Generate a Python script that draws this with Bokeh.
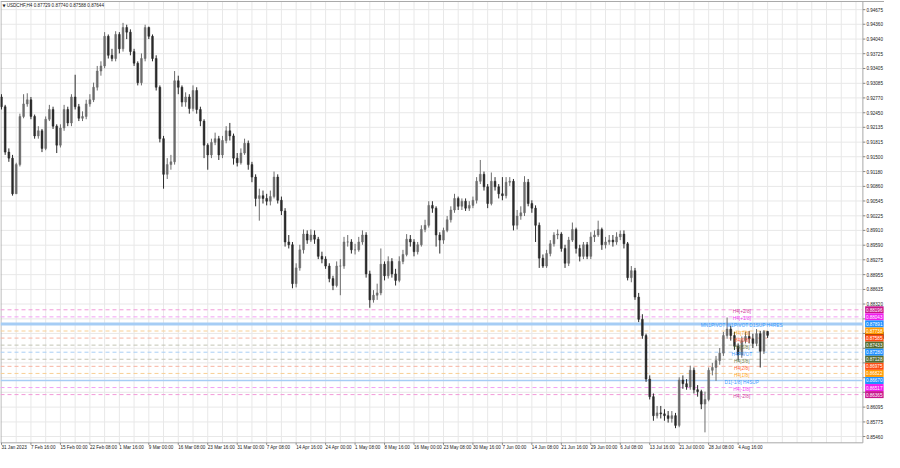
from bokeh.plotting import figure
from bokeh.models import Range1d
from bokeh.embed import file_html
from bokeh.resources import INLINE
from bokeh.core.properties import value

# ---------------- data ----------------
title_text = "USDCHF,H4  0.87729 0.87740 0.87588 0.87644"

time_labels = ["31 Jan 2023", "7 Feb 16:00", "15 Feb 00:00", "22 Feb 08:00", "1 Mar 16:00",
               "9 Mar 00:00", "16 Mar 08:00", "23 Mar 16:00", "31 Mar 00:00", "7 Apr 08:00",
               "14 Apr 16:00", "24 Apr 00:00", "1 May 08:00", "8 May 16:00", "16 May 00:00",
               "23 May 08:00", "30 May 16:00", "7 Jun 00:00", "14 Jun 08:00", "21 Jun 16:00",
               "29 Jun 00:00", "6 Jul 08:00", "13 Jul 16:00", "21 Jul 00:00", "28 Jul 08:00",
               "4 Aug 16:00"]

price_ticks = [0.94675, 0.94360, 0.94040, 0.93725, 0.93405, 0.93085, 0.92770, 0.92450,
               0.92135, 0.91815, 0.91500, 0.91180, 0.90860, 0.90545, 0.90225, 0.89910,
               0.89590, 0.89275, 0.88955, 0.88635, 0.88320, 0.88000, 0.87685, 0.87365,
               0.87050, 0.86730, 0.86415, 0.86095, 0.85775, 0.85460]
hidden_ticks = [0.88000, 0.87685, 0.87365, 0.87050, 0.86730, 0.86415]

first_open = 0.9279
close = [
    0.9258, 0.9160, 0.9147, 0.9070, 0.9133, 0.9237, 0.9264, 0.9273, 0.9237, 0.9195,
    0.9206, 0.9168, 0.9231, 0.9252, 0.9216, 0.9175, 0.9212, 0.9252, 0.9223, 0.9279,
    0.9258, 0.9233, 0.9237, 0.9264, 0.9273, 0.9300, 0.9335, 0.9346, 0.9410, 0.9369,
    0.9362, 0.9414, 0.9383, 0.9429, 0.9419, 0.9377, 0.9352, 0.9310, 0.9362, 0.9429,
    0.9410, 0.9362, 0.9300, 0.9189, 0.9112, 0.9133, 0.9139, 0.9314, 0.9300, 0.9268,
    0.9279, 0.9254, 0.9293, 0.9252, 0.9227, 0.9175, 0.9154, 0.9181, 0.9189, 0.9154,
    0.9185, 0.9206, 0.9195, 0.9147, 0.9137, 0.9158, 0.9179, 0.9133, 0.9106, 0.9060,
    0.9066, 0.9060, 0.9054, 0.9064, 0.9106, 0.9056, 0.9033, 0.8966, 0.8960, 0.8876,
    0.8910, 0.8949, 0.8983, 0.8970, 0.8981, 0.8972, 0.8935, 0.8929, 0.8914, 0.8887,
    0.8872, 0.8914, 0.8914, 0.8966, 0.8966, 0.8949, 0.8949, 0.8966, 0.8981, 0.8897,
    0.8841, 0.8851, 0.8856, 0.8918, 0.8893, 0.8924, 0.8897, 0.8883, 0.8924, 0.8939,
    0.8972, 0.8966, 0.8945, 0.8960, 0.8993, 0.9002, 0.9045, 0.9039, 0.8981, 0.8970,
    0.8991, 0.9014, 0.9035, 0.9060, 0.9043, 0.9054, 0.9039, 0.9045, 0.9056, 0.9097,
    0.9112, 0.9085, 0.9049, 0.9097, 0.9085, 0.9070, 0.9066, 0.9095, 0.9097, 0.9002,
    0.9022, 0.9029, 0.9095, 0.9049, 0.9039, 0.9002, 0.8931, 0.8914, 0.8941, 0.8962,
    0.8981, 0.8983, 0.8952, 0.8920, 0.8970, 0.8993, 0.8952, 0.8935, 0.8960, 0.8935,
    0.8977, 0.8981, 0.8993, 0.8960, 0.8966, 0.8970, 0.8966, 0.8977, 0.8983, 0.8962,
    0.8889, 0.8904, 0.8847, 0.8799, 0.8764, 0.8670, 0.8632, 0.8591, 0.8597, 0.8595,
    0.8591, 0.8585, 0.8591, 0.8570, 0.8668, 0.8660, 0.8653, 0.8689, 0.8647, 0.8643,
    0.8616, 0.8626, 0.8689, 0.8695, 0.8710, 0.8726, 0.8764, 0.8778, 0.8764, 0.8741,
    0.8722, 0.8753, 0.8762, 0.8757, 0.8747, 0.8768, 0.8730, 0.87729, 0.87644]
high = [
    0.9285, 0.9262, 0.9168, 0.9154, 0.9137, 0.9243, 0.9285, 0.9287, 0.9279, 0.9241,
    0.9216, 0.9210, 0.9237, 0.9262, 0.9258, 0.9220, 0.9220, 0.9262, 0.9258, 0.9285,
    0.9327, 0.9264, 0.9248, 0.9273, 0.9285, 0.9310, 0.9346, 0.9356, 0.9419, 0.9414,
    0.9383, 0.9421, 0.9419, 0.9439, 0.9435, 0.9425, 0.9383, 0.9356, 0.9373, 0.9435,
    0.9431, 0.9414, 0.9369, 0.9304, 0.9195, 0.9147, 0.9154, 0.9335, 0.9325, 0.9304,
    0.9289, 0.9285, 0.9304, 0.9300, 0.9258, 0.9231, 0.9179, 0.9189, 0.9202, 0.9195,
    0.9195, 0.9216, 0.9223, 0.9200, 0.9158, 0.9168, 0.9189, 0.9185, 0.9139, 0.9112,
    0.9081, 0.9077, 0.9070, 0.9077, 0.9118, 0.9112, 0.9064, 0.9039, 0.8981, 0.8966,
    0.8920, 0.8960, 0.8993, 0.8991, 0.8993, 0.8991, 0.8977, 0.8945, 0.8935, 0.8920,
    0.8893, 0.8924, 0.8929, 0.8977, 0.8981, 0.8972, 0.8962, 0.8977, 0.8991, 0.8987,
    0.8904, 0.8862, 0.8876, 0.8952, 0.8924, 0.8935, 0.8931, 0.8908, 0.8935, 0.8949,
    0.8983, 0.8981, 0.8972, 0.8966, 0.9002, 0.9014, 0.9054, 0.9054, 0.9043, 0.8987,
    0.8997, 0.9022, 0.9043, 0.9070, 0.9064, 0.9060, 0.9060, 0.9054, 0.9064, 0.9106,
    0.9143, 0.9118, 0.9091, 0.9116, 0.9106, 0.9091, 0.9106, 0.9106, 0.9106, 0.9102,
    0.9035, 0.9043, 0.9108, 0.9102, 0.9056, 0.9045, 0.9008, 0.8939, 0.8949, 0.8970,
    0.8987, 0.8993, 0.8987, 0.8960, 0.8977, 0.9008, 0.8997, 0.8960, 0.8966, 0.8966,
    0.8987, 0.8991, 0.9012, 0.8997, 0.8977, 0.8981, 0.8981, 0.8987, 0.8991, 0.8991,
    0.8966, 0.8914, 0.8910, 0.8856, 0.8810, 0.8768, 0.8678, 0.8639, 0.8612, 0.8612,
    0.8605, 0.8601, 0.8601, 0.8597, 0.8674, 0.8678, 0.8670, 0.8699, 0.8695, 0.8657,
    0.8647, 0.8643, 0.8695, 0.8705, 0.8720, 0.8737, 0.8772, 0.8803, 0.8785, 0.8772,
    0.8747, 0.8762, 0.8772, 0.8774, 0.8768, 0.8778, 0.8774, 0.8776, 0.87740]
low = [
    0.9252, 0.9154, 0.9139, 0.9066, 0.9070, 0.9129, 0.9233, 0.9258, 0.9231, 0.9189,
    0.9189, 0.9160, 0.9164, 0.9227, 0.9210, 0.9158, 0.9170, 0.9206, 0.9216, 0.9216,
    0.9252, 0.9227, 0.9227, 0.9231, 0.9258, 0.9268, 0.9293, 0.9325, 0.9341, 0.9362,
    0.9356, 0.9356, 0.9373, 0.9377, 0.9404, 0.9369, 0.9346, 0.9304, 0.9304, 0.9356,
    0.9404, 0.9356, 0.9293, 0.9181, 0.9081, 0.9102, 0.9122, 0.9133, 0.9285, 0.9258,
    0.9258, 0.9243, 0.9248, 0.9243, 0.9216, 0.9147, 0.9122, 0.9147, 0.9175, 0.9143,
    0.9147, 0.9179, 0.9185, 0.9133, 0.9129, 0.9133, 0.9154, 0.9122, 0.9095, 0.9043,
    0.9012, 0.9049, 0.9045, 0.9045, 0.9060, 0.9049, 0.9024, 0.8956, 0.8952, 0.8866,
    0.8868, 0.8904, 0.8941, 0.8962, 0.8966, 0.8962, 0.8929, 0.8920, 0.8908, 0.8879,
    0.8862, 0.8868, 0.8851, 0.8908, 0.8956, 0.8941, 0.8939, 0.8945, 0.8960, 0.8889,
    0.8824, 0.8835, 0.8841, 0.8851, 0.8883, 0.8887, 0.8889, 0.8872, 0.8879, 0.8918,
    0.8935, 0.8956, 0.8935, 0.8939, 0.8956, 0.8987, 0.8997, 0.9029, 0.8956, 0.8941,
    0.8962, 0.8987, 0.9008, 0.9029, 0.9035, 0.9035, 0.9033, 0.9033, 0.9039, 0.9049,
    0.9091, 0.9077, 0.9039, 0.9045, 0.9077, 0.9060, 0.9056, 0.9060, 0.9087, 0.8991,
    0.8993, 0.9014, 0.9022, 0.9043, 0.9029, 0.8966, 0.8910, 0.8910, 0.8910, 0.8935,
    0.8956, 0.8972, 0.8945, 0.8910, 0.8914, 0.8966, 0.8941, 0.8924, 0.8929, 0.8929,
    0.8929, 0.8966, 0.8977, 0.8949, 0.8952, 0.8960, 0.8956, 0.8960, 0.8970, 0.8952,
    0.8883, 0.8879, 0.8841, 0.8793, 0.8757, 0.8664, 0.8626, 0.8580, 0.8585, 0.8585,
    0.8580, 0.8576, 0.8576, 0.8564, 0.8566, 0.8649, 0.8647, 0.8647, 0.8639, 0.8632,
    0.8605, 0.8555, 0.8622, 0.8678, 0.8666, 0.8701, 0.8720, 0.8757, 0.8753, 0.8733,
    0.8710, 0.8716, 0.8747, 0.8747, 0.8737, 0.8741, 0.8695, 0.8724, 0.87588]

current_price = 0.87644
level_prices = [0.88196, 0.88043, 0.87891, 0.87738, 0.87585, 0.87433, 0.87280,
                0.87128, 0.86975, 0.86822, 0.86670, 0.86517, 0.86365]
level_names = ["H4[+2/8]", "H4[+1/8]", "MN1PIVOT W1PIVOT D1SUP H4RES", "H4[7/8]",
               "H4[6/8]", "H4[5/8]", "H4PIVOT", "H4[3/8]", "H4[2/8]", "H4[1/8]",
               "D1[-1/8] H4SUP", "H4[-1/8]", "H4[-2/8]"]

# ---------------- styles / layout ----------------
level_colors = ["#c8168c", "#f01cf0", "#1e90ff", "#ff9a00", "#ff4a10", "#556b2f", "#1e90ff",
                "#556b2f", "#ff4a10", "#ff9a00", "#1e90ff", "#f01cf0", "#c8168c"]
level_line_colors = ["#f29ad8", "#f3a0f3", "#a6cdf5", "#f8cf93", "#f7b4a2", "#c2c4b4", "#a9cff5",
                     "#c2c4b4", "#f7b4a2", "#f8cf93", "#a6cdf5", "#f3a0f3", "#f29ad8"]
level_dash = ["4 3", "4 3", "solid", "4 3", "4 3", "4 3", "4 3",
              "4 3", "4 3", "4 3", "solid", "4 3", "4 3"]
level_width = [1, 1, 3, 1, 1, 1, 1, 1, 1, 1, 1.5, 1, 1]
FONT = "Liberation Sans"
FS = "4.6px"

X0, X1 = -0.2667, 239.74          # whole canvas, in bar units
Y0, Y1 = 0.85115, 0.94873         # whole canvas, in price units
CHART_R = 233.87                  # right edge of the price pane
CHART_B, CHART_T = 0.85324, 0.94852
PX = 3.6833                       # screen px per bar unit
PY = 0.0002159                    # price per screen px

# ---------------- derived ----------------
n = len(close)
xs = list(range(n))
opens = [first_open] + close[:-1]
body_top = [max(o, c) for o, c in zip(opens, close)]
body_bot = [min(o, c) for o, c in zip(opens, close)]
cols = ["#6c6c6c" if c >= o else "#2a2a2a" for o, c in zip(opens, close)]

p = figure(width=884, height=452, x_range=Range1d(X0, X1), y_range=Range1d(Y0, Y1),
           output_backend="svg", toolbar_location=None,
           x_axis_location=None, y_axis_location=None,
           min_border=0, outline_line_color=None,
           background_fill_color="white", border_fill_color="white")
p.xgrid.visible = False
p.ygrid.visible = False

# grid of the price pane
vgrid = list(range(4, 233, 4))
p.segment(x0=vgrid, y0=[CHART_B] * len(vgrid), x1=vgrid, y1=[CHART_T] * len(vgrid),
          line_color="#e8e8e8", line_width=1)
p.segment(x0=[X0] * len(price_ticks), y0=price_ticks, x1=[CHART_R] * len(price_ticks),
          y1=price_ticks, line_color="#e8e8e8", line_width=1)

# pane border
p.segment(x0=[X0 + 0.5 / PX, X0, X0, CHART_R], y0=[CHART_B, CHART_T, CHART_B, CHART_B],
          x1=[X0 + 0.5 / PX, X1, CHART_R, CHART_R], y1=[CHART_T, CHART_T, CHART_B, CHART_T],
          line_color="#a8a8a8", line_width=1)

# level lines
for pr, lc, ld, lw in zip(level_prices, level_line_colors, level_dash, level_width):
    p.segment(x0=[X0], y0=[pr], x1=[CHART_R], y1=[pr], line_color=lc, line_dash=ld,
              line_width=lw)

# candles
p.segment(x0=xs, y0=low, x1=xs, y1=high, line_color=cols, line_width=1)
p.vbar(x=xs, width=0.5, top=body_top, bottom=body_bot, fill_color=cols, line_color=cols,
       line_width=0.5)

# level names
p.text(x=[201] * len(level_prices), y=level_prices, text=level_names, text_color=level_colors,
       text_alpha=0.9, text_align="center", text_baseline="middle", y_offset=2,
       text_font=value(FONT), text_font_size="4.8px")

# title
p.text(x=[0.25], y=[0.94769], text=["\u25bc"], text_color="#222222", text_align="left",
       text_baseline="middle", text_font=value("DejaVu Sans"), text_font_size="4px")
p.text(x=[1.4], y=[0.94769], text=[title_text], text_color="#222222", text_align="left",
       text_baseline="middle", text_font=value(FONT), text_font_size=FS)

# right price scale
shown = [t for t in price_ticks if t not in hidden_ticks]
p.segment(x0=[CHART_R] * len(price_ticks), y0=price_ticks,
          x1=[CHART_R + 2.5 / PX] * len(price_ticks), y1=price_ticks,
          line_color="#888888", line_width=1)
p.text(x=[CHART_R + 3.5 / PX] * len(shown), y=shown, text=[f"{t:.5f}" for t in shown],
       text_color="#222222", text_align="left", text_baseline="middle",
       text_font=value(FONT), text_font_size=FS)

# price boxes on the scale
box_cx = CHART_R + 11.5 / PX
box_w = 18.5 / PX
p.rect(x=[box_cx], y=[current_price], width=box_w, height=7, height_units="screen",
       fill_color="black", line_color=None)
p.rect(x=[box_cx] * len(level_prices), y=level_prices, width=box_w, height=7,
       height_units="screen", fill_color=level_colors, line_color=None)
p.text(x=[CHART_R + 3 / PX] * len(level_prices), y=level_prices,
       text=[f"{v:.5f}" for v in level_prices], text_color="white", text_align="left",
       text_baseline="middle", text_font=value(FONT), text_font_size=FS)

# time scale
tpos = [8 * k for k in range(len(time_labels))]
p.segment(x0=tpos, y0=[CHART_B] * len(tpos), x1=tpos, y1=[CHART_B - 2 * PY] * len(tpos),
          line_color="#888888", line_width=1)
p.text(x=tpos, y=[CHART_B - 5 * PY] * len(tpos), text=time_labels, text_color="#222222",
       text_align="left", text_baseline="middle", text_font=value(FONT), text_font_size=FS)

open("out.html", "w").write(file_html(p, INLINE))
